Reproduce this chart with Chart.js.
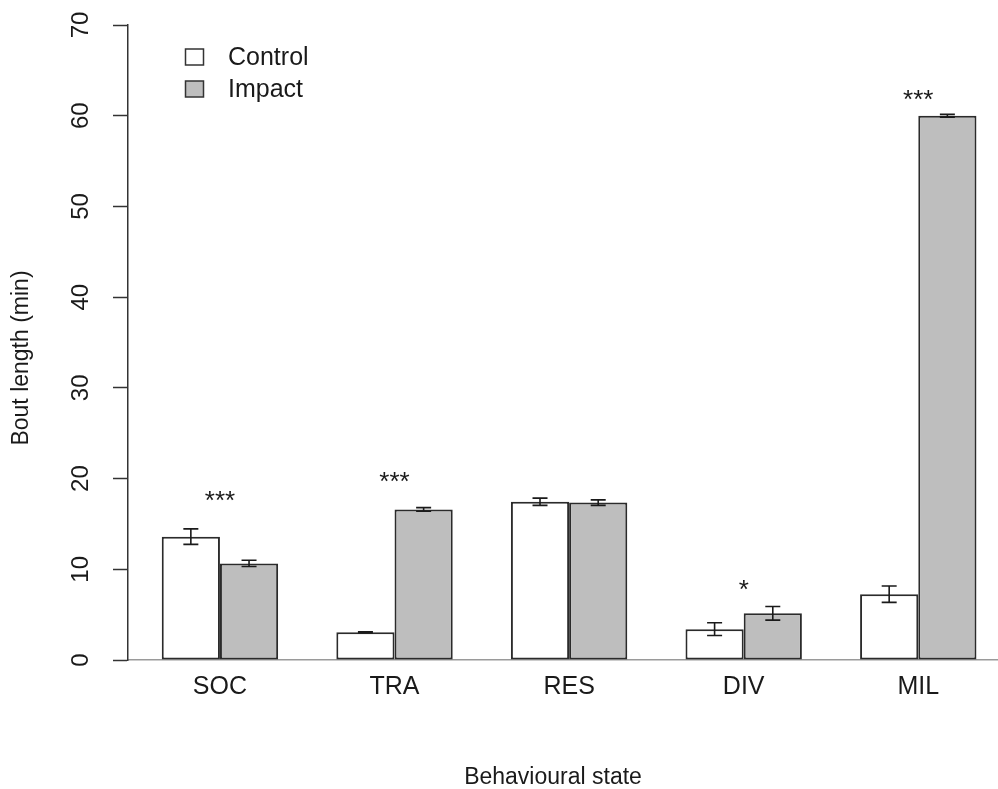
<!DOCTYPE html>
<html>
<head>
<meta charset="utf-8">
<script src="https://cdn.jsdelivr.net/npm/chart.js@4/dist/chart.umd.min.js"></script>
<style>
  html, body { margin: 0; padding: 0; background: #fff; }
  canvas { display: block; }
</style>
</head>
<body>
<canvas id="myChart" width="998" height="789"></canvas>
<script>
  'use strict'

  // values
  const categories = ['SOC', 'TRA', 'RES', 'DIV', 'MIL']
  const controlMeans = [13.6, 3.05, 17.45, 3.4, 7.25]
  const controlErr = [0.85, 0.05, 0.4, 0.7, 0.9]
  const impactMeans = [10.65, 16.6, 17.35, 5.15, 60.0]
  const impactErr = [0.35, 0.2, 0.3, 0.75, 0.15]
  const sigLabels = ['***', '***', '', '*', '***']
  const sigHeights = [17.8, 19.8, 0, 7.9, 61.9]
  const yTicks = [0, 10, 20, 30, 40, 50, 60, 70]

  const FONT = '"Liberation Sans", Arial, Helvetica, sans-serif'
  const INK = '#1a1a1a'

  // group centres in barplot units (space 1 + two bars of width 1)
  const groupX = categories.map((c, i) => 2 + 3 * i)

  const toPoints = (means) => means.map((v, i) => ({ x: groupX[i], y: v }))
  const errors = [controlErr, impactErr]

  const extras = {
    id: 'extras',
    afterDatasetsDraw (chart) {
      const { ctx, scales: { y } } = chart
      ctx.save()
      ctx.strokeStyle = INK
      ctx.lineWidth = 1.6
      chart.data.datasets.forEach((ds, d) => {
        const meta = chart.getDatasetMeta(d)
        meta.data.forEach((bar, i) => {
          const m = ds.data[i].y
          const e = errors[d][i]
          const top = y.getPixelForValue(m + e)
          const bot = y.getPixelForValue(m - e)
          ctx.beginPath()
          ctx.moveTo(bar.x, top)
          ctx.lineTo(bar.x, bot)
          ctx.moveTo(bar.x - 7.5, top)
          ctx.lineTo(bar.x + 7.5, top)
          ctx.moveTo(bar.x - 7.5, bot)
          ctx.lineTo(bar.x + 7.5, bot)
          ctx.stroke()
        })
      })
      ctx.restore()
    },
    afterDraw (chart) {
      const { ctx, scales: { x, y } } = chart
      ctx.save()
      ctx.fillStyle = INK

      // significance stars
      ctx.font = '26px ' + FONT
      ctx.textAlign = 'center'
      ctx.textBaseline = 'alphabetic'
      sigLabels.forEach((s, i) => {
        if (!s) return
        ctx.fillText(s, x.getPixelForValue(groupX[i]), y.getPixelForValue(sigHeights[i]) + 10)
      })

      // y tick labels, parallel to the axis
      ctx.textBaseline = 'middle'
      ctx.font = '24px ' + FONT
      yTicks.forEach((t) => {
        ctx.save()
        ctx.translate(81, y.getPixelForValue(t))
        ctx.rotate(-Math.PI / 2)
        ctx.fillText(String(t), 0, 0)
        ctx.restore()
      })

      // axis titles
      ctx.font = '23px ' + FONT
      ctx.save()
      ctx.translate(22, 358)
      ctx.rotate(-Math.PI / 2)
      ctx.fillText('Bout length (min)', 0, 0)
      ctx.restore()
      ctx.fillText('Behavioural state', 553, 778)

      // legend
      const items = [
        { label: chart.data.datasets[0].label, fill: '#ffffff', y: 57 },
        { label: chart.data.datasets[1].label, fill: '#bebebe', y: 89 }
      ]
      ctx.font = '25px ' + FONT
      ctx.textAlign = 'left'
      ctx.lineWidth = 1.5
      ctx.strokeStyle = '#333'
      items.forEach((it) => {
        ctx.fillStyle = it.fill
        ctx.fillRect(185.5, it.y - 8, 18, 16)
        ctx.strokeRect(185.5, it.y - 8, 18, 16)
        ctx.fillStyle = INK
        ctx.fillText(it.label, 228, it.y + 1)
      })
      ctx.restore()
    }
  }

  const ctx = document.getElementById('myChart')
  // eslint-disable-next-line no-unused-vars
  const myChart = new Chart(ctx, {
    type: 'bar',
    data: {
      datasets: [{
        label: 'Control',
        data: toPoints(controlMeans),
        backgroundColor: '#ffffff',
        borderColor: '#2b2b2b',
        borderWidth: 2,
        borderSkipped: false
      },
      {
        label: 'Impact',
        data: toPoints(impactMeans),
        backgroundColor: '#bebebe',
        borderColor: '#2b2b2b',
        borderWidth: 2,
        borderSkipped: false
      }]
    },
    options: {
      responsive: false,
      animation: false,
      categoryPercentage: 2 / 3,
      barPercentage: 1,
      layout: { padding: { top: 25, right: 0, bottom: 0, left: 0 } },
      plugins: {
        legend: { display: false },
        tooltip: { enabled: false }
      },
      scales: {
        x: {
          type: 'linear',
          offset: false,
          min: 0.42,
          max: 15.37,
          afterBuildTicks (scale) {
            scale.ticks = groupX.map((v) => ({ value: v }))
          },
          afterFit (scale) {
            scale.height = 129
          },
          grid: { display: false },
          border: { display: true, color: '#9a9a9a', width: 1.5 },
          ticks: {
            autoSkip: false,
            maxRotation: 0,
            padding: 4,
            color: INK,
            font: { family: FONT, size: 25 },
            callback: (value, index) => categories[index]
          }
        },
        y: {
          min: 0,
          max: 70,
          afterBuildTicks (scale) {
            scale.ticks = yTicks.map((v) => ({ value: v }))
          },
          afterFit (scale) {
            scale.width = 128
          },
          grid: {
            drawOnChartArea: false,
            drawTicks: true,
            tickLength: 15,
            tickColor: '#333',
            tickWidth: 1.5
          },
          border: { display: true, color: '#333', width: 1.5 },
          ticks: { display: false }
        }
      }
    },
    plugins: [extras]
  })
</script>
</body>
</html>
